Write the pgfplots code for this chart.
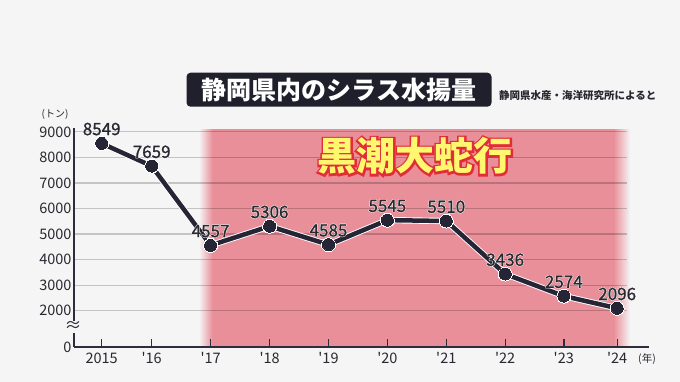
\documentclass[border=0pt]{standalone}
\usepackage{fontspec}
\setmainfont{Noto Sans CJK JP}
\usepackage{pgfplots}
\pgfplotsset{compat=1.18}
\pgfdeclarelayer{bglayer}
\pgfplotsset{layers/mine/.define layer set={bglayer,axis background,axis grid,axis ticks,axis lines,axis tick labels,pre main,main,axis descriptions,axis foreground}{}}
\definecolor{bg}{RGB}{245,245,245}
\definecolor{pinkr}{RGB}{233,143,153}
\definecolor{linec}{RGB}{37,37,54}
\definecolor{axc}{RGB}{45,45,60}
\definecolor{titlebg}{RGB}{32,32,44}
\definecolor{txt}{RGB}{40,40,48}
\definecolor{yel}{RGB}{255,248,110}
\definecolor{glow}{RGB}{225,45,55}
\newcommand\halo[1]{\leavevmode\rlap{\textcolor{white}{\addfontfeature{FakeBold=7}#1}}{\addfontfeature{FakeBold=1.2}#1}}
\pgfplotstableread{
x y label
101.7 8549 8549
151.7 7659 7659
210.6 4557 4557
269.6 5306 5306
328.5 4585 4585
387.4 5545 5545
446.3 5510 5510
505.2 3436 3436
563.8 2574 2574
617.2 2096 2096
}\catch
\begin{document}
\begin{tikzpicture}
\begin{axis}[
  at={(74pt,35pt)}, anchor=south west,
  scale only axis, width=575pt, height=219pt,
  xmin=74, xmax=649, ymin=580, ymax=9150,
  set layers=mine, clip=false,
  axis line style={draw=none},
  xtick={101.7,151.7,210.6,269.6,328.5,387.4,446.3,505.2,563.8,617.2},
  xticklabels={2015,\textquotesingle16,\textquotesingle17,\textquotesingle18,\textquotesingle19,\textquotesingle20,\textquotesingle21,\textquotesingle22,\textquotesingle23,\textquotesingle24},
  xtick pos=bottom, xtick align=inside, major tick length=8pt,
  xtick style={draw=axc, line width=1.4pt},
  ytick={580,2000,3000,4000,5000,6000,7000,8000,9000},
  yticklabels={0,2000,3000,4000,5000,6000,7000,8000,9000},
  ytick style={draw=none},
  ticklabel style={text=txt, font=\fontsize{14.5}{14.5}\selectfont},
  xticklabel style={yshift=-2pt},
  yticklabel style={xshift=1pt},
]
\begin{pgfonlayer}{bglayer}
  \fill[bg] (axis cs:0,-789.6) rectangle (axis cs:680,14159);
\end{pgfonlayer}
\begin{pgfonlayer}{axis background}
  \fill[pinkr] (axis cs:212,580) rectangle (axis cs:614,9100);
  \shade[left color=bg, right color=pinkr] (axis cs:199,580) rectangle (axis cs:212.5,9100);
  \shade[left color=pinkr, right color=bg] (axis cs:613.5,580) rectangle (axis cs:630,9100);
  \draw[black, opacity=0.2, line width=1.3pt] (axis cs:74,2000) -- (axis cs:627,2000);
  \draw[black, opacity=0.2, line width=1.3pt] (axis cs:74,3000) -- (axis cs:627,3000);
  \draw[black, opacity=0.2, line width=1.3pt] (axis cs:74,4000) -- (axis cs:627,4000);
  \draw[black, opacity=0.2, line width=1.3pt] (axis cs:74,5000) -- (axis cs:627,5000);
  \draw[black, opacity=0.2, line width=1.3pt] (axis cs:74,6000) -- (axis cs:627,6000);
  \draw[black, opacity=0.2, line width=1.3pt] (axis cs:74,7000) -- (axis cs:627,7000);
  \draw[black, opacity=0.2, line width=1.3pt] (axis cs:74,8000) -- (axis cs:627,8000);
  \draw[black, opacity=0.2, line width=1.3pt] (axis cs:74,9000) -- (axis cs:627,9000);
\end{pgfonlayer}
\node[font=\bfseries\fontsize{39}{39}\selectfont] at (axis cs:415,8050)
    {\leavevmode\rlap{\textcolor{glow}{\addfontfeature{FakeBold=10}黒潮大蛇行}}\textcolor{yel}{黒潮大蛇行}};
\draw[axc, line width=1.8pt] (axis cs:74,580) -- (axis cs:649,580);
\draw[axc, line width=1.8pt] (axis cs:74,580) -- (axis cs:74,1130);
\draw[axc, line width=1.8pt] (axis cs:74,1600) -- (axis cs:74,9150);
\node[text=axc, font=\fontsize{17}{17}\selectfont, inner sep=0] at (axis cs:73,1380) {≈};
\addplot[white, line width=6.3pt, line join=round, mark=*, mark size=7pt,
  mark options={fill=white, draw=white, line width=0pt}]
  table[x=x, y=y] {\catch};
\addplot[linec, line width=4.5pt, line join=round, mark=*, mark size=6pt,
  mark options={fill=linec, draw=linec, line width=0pt},
  nodes near coords={\halo{\pgfplotspointmeta}},
  point meta=explicit symbolic,
  every node near coord/.style={anchor=south, inner sep=0pt, yshift=8pt, text=txt, font=\fontsize{17}{17}\selectfont}]
  table[x=x, y=y, meta=label] {\catch};
\end{axis}
\node[fill=titlebg, rounded corners=4pt, minimum width=305pt, minimum height=34pt, inner sep=0, text=white, font=\bfseries\fontsize{25}{25}\selectfont] at (339pt,292.3pt) {静岡県内のシラス水揚量};
\node[text=txt, font=\bfseries\fontsize{10.5}{10.5}\selectfont, anchor=west, inner sep=0] at (499pt,286pt) {静岡県水産・海洋研究所によると};
\node[text=txt, font=\fontsize{10}{10}\selectfont, inner sep=0] at (55pt,268pt) {(トン)};
\node[text=txt, font=\fontsize{10.5}{10.5}\selectfont, inner sep=0] at (647pt,22.5pt) {(年)};
\end{tikzpicture}
\end{document}
